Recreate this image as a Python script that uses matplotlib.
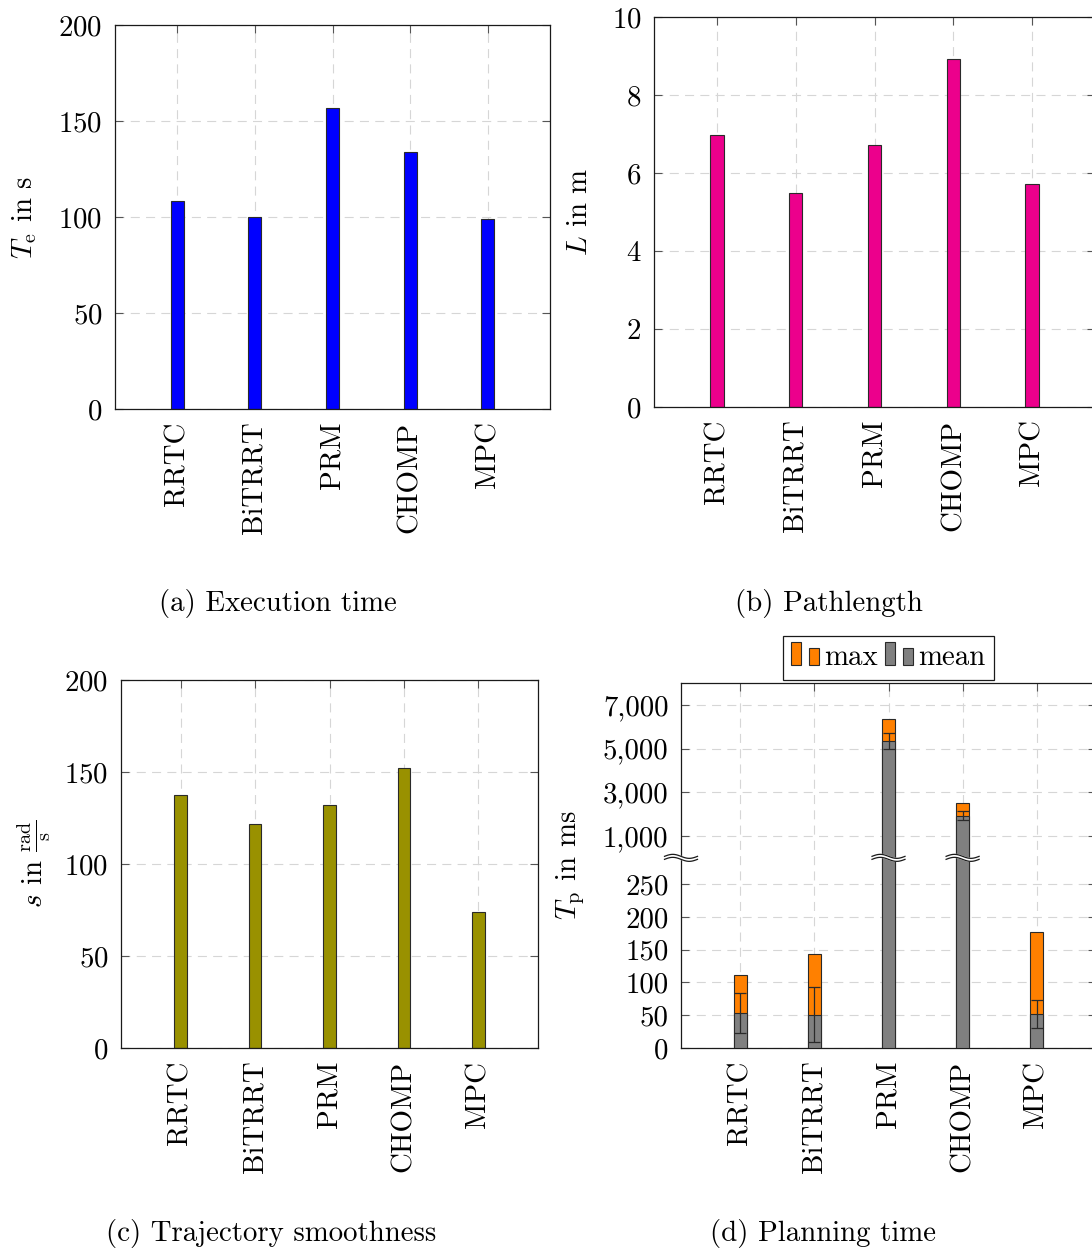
import numpy as np
import matplotlib
matplotlib.use("Agg")
import matplotlib.pyplot as plt
import matplotlib.transforms as mtransforms
from matplotlib.patches import Patch, Rectangle
from matplotlib.legend_handler import HandlerBase

plt.rcParams['font.family'] = 'cmr10'
plt.rcParams['mathtext.fontset'] = 'cm'
plt.rcParams['axes.unicode_minus'] = False
plt.rcParams['axes.formatter.use_mathtext'] = True
plt.rcParams['font.size'] = 20.8
plt.rcParams['lines.scale_dashes'] = False

# planners compared in every panel
planners = ["RRTC", "BiTRRT", "PRM", "CHOMP", "MPC"]

# (a) execution time in s
exec_time = [108.4, 100.0, 156.9, 133.7, 98.9]
# (b) path length in m
path_length = [6.97, 5.49, 6.71, 8.92, 5.72]
# (c) trajectory smoothness in rad/s
smoothness = [137.6, 121.6, 131.9, 152.4, 73.9]
# (d) planning time in ms
plan_mean = [53.5, 51.0, 5350, 1930, 52.0]
plan_std = [30.5, 42.3, 375, 210, 21.5]
plan_max = [112, 143, 6360, 2490, 177]

y_ticks_d = [0, 50, 100, 150, 200, 250, 1000, 3000, 5000, 7000]

BLUE = "#0000ff"
MAGENTA = "#ec008c"
OLIVE = "#999100"
ORANGE = "#ff8000"
GRAY = "#808080"
EDGE = "#2a2a2a"
GRID = "#d6d6d6"

BAR_W = 0.17
x = np.arange(len(planners))

fig = plt.figure(figsize=(10.92, 12.52), dpi=100)
W, H = 1092.0, 1252.0


def add_axes_px(left, top, right, bottom):
    return fig.add_axes([left / W, 1 - bottom / H, (right - left) / W, (bottom - top) / H])


def style_axes(ax):
    ax.set_xlim(-0.8, 4.8)
    ax.set_xticks(x)
    ax.set_xticklabels(planners, rotation=90, va="top", ha="center")
    ax.tick_params(axis="both", direction="in", length=5.5, width=0.8,
                   color="#555555", top=True, right=True, pad=9)
    ax.grid(True, color=GRID, linewidth=0.8, linestyle=(0, (6.5, 4.5)))
    ax.set_axisbelow(True)
    for sp in ax.spines.values():
        sp.set_linewidth(0.9)
        sp.set_color("#1a1a1a")


# (a) Execution time
ax_a = add_axes_px(115, 25, 550, 409)
ax_a.bar(x, exec_time, width=BAR_W, color=BLUE, edgecolor=EDGE, linewidth=0.8, zorder=2)
style_axes(ax_a)
ax_a.set_ylim(0, 200)
ax_a.set_yticks([0, 50, 100, 150, 200])
ax_a.set_ylabel(r"$T_\mathrm{e}$ in s")
ax_a.yaxis.set_label_coords(-0.175, 0.5)

# (b) Pathlength
ax_b = add_axes_px(654, 17, 1095, 407)
ax_b.bar(x, path_length, width=BAR_W, color=MAGENTA, edgecolor=EDGE, linewidth=0.8, zorder=2)
style_axes(ax_b)
ax_b.set_ylim(0, 10)
ax_b.set_yticks([0, 2, 4, 6, 8, 10])
ax_b.set_ylabel(r"$L$ in m")
ax_b.yaxis.set_label_coords(-0.139, 0.5)

# (c) Trajectory smoothness
ax_c = add_axes_px(121, 680, 538, 1048)
ax_c.bar(x, smoothness, width=BAR_W, color=OLIVE, edgecolor=EDGE, linewidth=0.8, zorder=2)
style_axes(ax_c)
ax_c.set_ylim(0, 200)
ax_c.set_yticks([0, 50, 100, 150, 200])
ax_c.set_ylabel(r"$s$ in $\frac{\mathrm{rad}}{\mathrm{s}}$")
ax_c.yaxis.set_label_coords(-0.162, 0.5)


# (d) Planning time, y axis compressed above 300 ms
def squash(v):
    v = np.asarray(v, dtype=float)
    return np.where(v <= 300, v, 300 + (v - 300) / 30.0)


def unsquash(u):
    u = np.asarray(u, dtype=float)
    return np.where(u <= 300, u, 300 + (u - 300) * 30.0)


ax_d = add_axes_px(681, 683, 1096, 1048)
ax_d.set_yscale("function", functions=(squash, unsquash))
ax_d.bar(x, plan_max, width=BAR_W, color=ORANGE, edgecolor=EDGE, linewidth=0.8, zorder=2)
ax_d.bar(x, plan_mean, width=BAR_W, color=GRAY, edgecolor=EDGE, linewidth=0.8, zorder=3)
ax_d.errorbar(x, plan_mean, yerr=plan_std, fmt="none", ecolor=EDGE, elinewidth=0.9,
              capsize=4.5, capthick=0.9, zorder=4)
style_axes(ax_d)
ax_d.set_ylim(0, 8000)
ax_d.set_yticks(y_ticks_d)
ax_d.set_yticklabels([f"{t:,}" for t in y_ticks_d])
ax_d.yaxis.set_minor_locator(matplotlib.ticker.NullLocator())
ax_d.set_ylabel(r"$T_\mathrm{p}$ in ms")
ax_d.yaxis.set_label_coords(-0.2265, 0.5)

# break marks on the axis and on the bars that cross the gap
BREAK_Y = 290
t = np.linspace(0, 1, 40)
wx = (t - 0.5) * 0.33
wave = 0.02 * np.sin(2 * np.pi * t)
gap = 0.03
for xb in [-0.8, 2, 3]:
    tr = fig.dpi_scale_trans + mtransforms.ScaledTranslation(xb, BREAK_Y, ax_d.transData)
    poly_x = np.concatenate([wx, wx[::-1]])
    poly_y = np.concatenate([wave + gap / 2, (wave - gap / 2)[::-1]])
    ax_d.fill(poly_x, poly_y, color="white", transform=tr, zorder=6, clip_on=False)
    ax_d.plot(wx, wave + gap / 2, color="#1a1a1a", lw=0.9, transform=tr, zorder=7, clip_on=False)
    ax_d.plot(wx, wave - gap / 2, color="#1a1a1a", lw=0.9, transform=tr, zorder=7, clip_on=False)


class TwoBarHandler(HandlerBase):
    def create_artists(self, legend, orig_handle, xdescent, ydescent, width, height,
                       fontsize, trans):
        fc = orig_handle.get_facecolor()
        bw = width * 0.35
        r1 = Rectangle((-xdescent, 0), bw, 0.8 * fontsize, facecolor=fc,
                       edgecolor=EDGE, linewidth=0.8, transform=trans)
        r2 = Rectangle((-xdescent + width - bw, 0), bw, 0.6 * fontsize, facecolor=fc,
                       edgecolor=EDGE, linewidth=0.8, transform=trans)
        return [r1, r2]


handles = [Patch(facecolor=ORANGE), Patch(facecolor=GRAY)]
leg = ax_d.legend(handles, ["max", "mean"], handler_map={Patch: TwoBarHandler()},
                  loc="lower center", bbox_to_anchor=(0.5, 1.0), ncol=2, frameon=True,
                  fancybox=False, edgecolor="#1a1a1a", framealpha=1,
                  borderaxespad=0.1, handlelength=0.95, handletextpad=0.2,
                  columnspacing=0.25, borderpad=0.3)
leg.get_frame().set_linewidth(0.9)

# sub-figure captions
fig.text(277.5 / W, 1 - 603 / H, "(a) Execution time", ha="center", va="center")
fig.text(829 / W, 1 - 603 / H, "(b) Pathlength", ha="center", va="center")
fig.text(271.5 / W, 1 - 1234 / H, "(c) Trajectory smoothness", ha="center", va="center")
fig.text(823.5 / W, 1 - 1234 / H, "(d) Planning time", ha="center", va="center")

fig.savefig("out.png", dpi=100)
